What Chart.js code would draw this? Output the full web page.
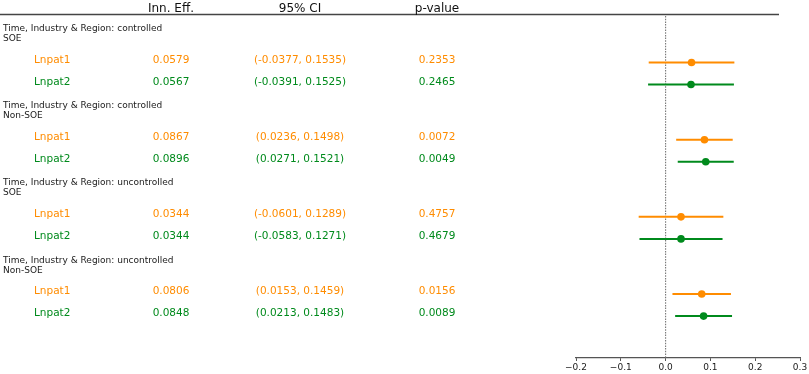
<!DOCTYPE html>
<html>
<head>
<meta charset="utf-8">
<script src="https://cdn.jsdelivr.net/npm/chart.js@4/dist/chart.umd.min.js"></script>
<style>
  html, body { margin: 0; padding: 0; background: #fff; }
  #wrap { width: 809px; height: 374px; }
</style>
</head>
<body>
<div id="wrap"><canvas id="forest"></canvas></div>
<script>
// ---- data ----
var controlState = ['controlled', 'controlled', 'uncontrolled', 'uncontrolled']
var ownership = ['SOE', 'Non-SOE', 'SOE', 'Non-SOE']
var varNames = ['Lnpat1', 'Lnpat2']

var effLnpat1 = [0.0579, 0.0867, 0.0344, 0.0806]
var lowLnpat1 = [-0.0377, 0.0236, -0.0601, 0.0153]
var highLnpat1 = [0.1535, 0.1498, 0.1289, 0.1459]
var pLnpat1 = [0.2353, 0.0072, 0.4757, 0.0156]

var effLnpat2 = [0.0567, 0.0896, 0.0344, 0.0848]
var lowLnpat2 = [-0.0391, 0.0271, -0.0583, 0.0213]
var highLnpat2 = [0.1525, 0.1521, 0.1271, 0.1483]
var pLnpat2 = [0.2465, 0.0049, 0.4679, 0.0089]

var xTicks = [-0.2, -0.1, 0.0, 0.1, 0.2, 0.3]
var headers = ['Inn. Eff.', '95% CI', 'p-value']

var colOrange = '#ff8c00'
var colGreen = '#008a1c'
var varColors = [colOrange, colGreen]

var effs = [effLnpat1, effLnpat2]
var lows = [lowLnpat1, lowLnpat2]
var highs = [highLnpat1, highLnpat2]
var pvals = [pLnpat1, pLnpat2]

// row index on the y scale: each group takes 3.5 rows
function rowOf(g, v) { return g * 3.5 + v }

var datasets = []
for (var v = 0; v < varNames.length; v++) {
  for (var g = 0; g < controlState.length; g++) {
    datasets.push({
      type: 'line',
      data: [{x: lows[v][g], y: rowOf(g, v)}, {x: highs[v][g], y: rowOf(g, v)}],
      borderColor: varColors[v],
      borderWidth: 2,
      pointRadius: 0,
      fill: false
    })
  }
  datasets.push({
    type: 'scatter',
    data: effs[v].map(function (e, g) { return {x: e, y: rowOf(g, v)} }),
    backgroundColor: varColors[v],
    borderColor: varColors[v],
    pointRadius: 3.8,
    pointBorderWidth: 0
  })
}

function fmt(n) { return n.toFixed(4) }

var tablePlugin = {
  id: 'tablePlugin',
  beforeDatasetsDraw: function (chart) {
    var c = chart.ctx
    var ys = chart.scales.y
    var xs = chart.scales.x
    var area = chart.chartArea
    c.save()
    // top rule
    c.strokeStyle = '#444'
    c.lineWidth = 1.5
    c.beginPath()
    c.moveTo(0, 14.5)
    c.lineTo(779, 14.5)
    c.stroke()
    // zero line
    var x0 = xs.getPixelForValue(0)
    c.strokeStyle = '#777'
    c.lineWidth = 1.1
    c.setLineDash([1.5, 1.2])
    c.beginPath()
    c.moveTo(x0, 16)
    c.lineTo(x0, area.bottom)
    c.stroke()
    c.setLineDash([])

    // column headers
    c.fillStyle = '#111'
    c.font = '12px "DejaVu Sans"'
    c.textAlign = 'center'
    c.textBaseline = 'alphabetic'
    c.fillText(headers[0], 171, 11.5)
    c.fillText(headers[1], 300, 11.5)
    c.fillText(headers[2], 437, 11.5)

    for (var g = 0; g < controlState.length; g++) {
      var yTop = ys.getPixelForValue(rowOf(g, 0))
      c.fillStyle = '#1a1a1a'
      c.font = '9px "DejaVu Sans"'
      c.textAlign = 'left'
      c.fillText('Time, Industry & Region: ' + controlState[g], 3, yTop - 31.5)
      c.fillText(ownership[g], 3, yTop - 21.5)
      for (var v = 0; v < varNames.length; v++) {
        var y = ys.getPixelForValue(rowOf(g, v))
        c.fillStyle = varColors[v]
        c.font = '10.5px "DejaVu Sans"'
        c.textAlign = 'left'
        c.fillText(varNames[v], 34, y)
        c.textAlign = 'center'
        c.fillText(fmt(effs[v][g]), 171, y)
        c.fillText('(' + fmt(lows[v][g]) + ', ' + fmt(highs[v][g]) + ')', 300, y)
        c.fillText(fmt(pvals[v][g]), 437, y)
      }
    }
    c.restore()
  }
}

var ctx = document.getElementById('forest').getContext('2d')
var chart = new Chart(ctx, {
  data: { datasets: datasets },
  options: {
    responsive: true,
    maintainAspectRatio: false,
    animation: false,
    layout: { padding: { left: 576, right: 9, top: 14, bottom: 0 } },
    plugins: {
      legend: { display: false },
      tooltip: { enabled: false }
    },
    scales: {
      x: {
        type: 'linear',
        min: -0.2,
        max: 0.3,
        afterBuildTicks: function (s) { s.ticks = xTicks.map(function (t) { return {value: t} }) },
        afterFit: function (s) { s.height = 16 },
        border: { display: true, color: '#555', width: 1.2 },
        grid: { display: true, drawOnChartArea: false, drawTicks: true, tickLength: 3, color: '#555' },
        ticks: {
          color: '#1a1a1a',
          padding: 1,
          maxRotation: 0,
          font: { family: 'DejaVu Sans', size: 9 },
          callback: function (v) { return (v < 0 ? '\u2212' : '') + Math.abs(v).toFixed(1) }
        }
      },
      y: {
        type: 'linear',
        display: false,
        reverse: true,
        min: -2.2,
        max: 13.4
      }
    }
  },
  plugins: [tablePlugin]
})
</script>
</body>
</html>
